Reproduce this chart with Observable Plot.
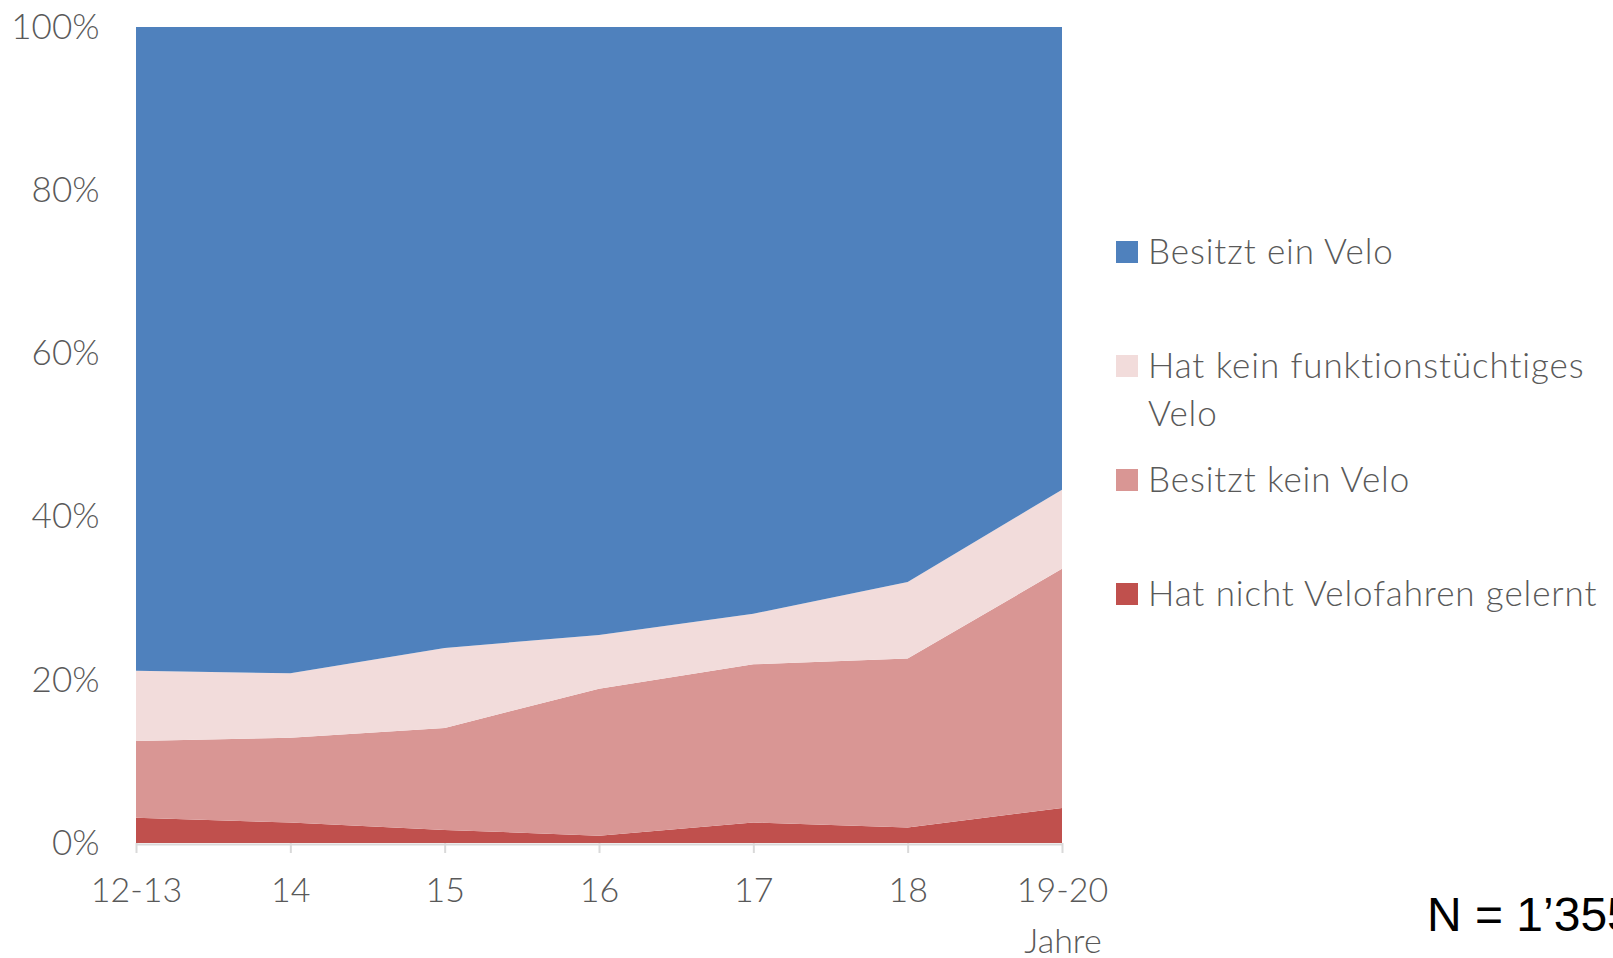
<!DOCTYPE html>
<html><head><meta charset="utf-8">
<script src="https://cdn.jsdelivr.net/npm/d3@7"></script>
<script src="https://cdn.jsdelivr.net/npm/@observablehq/plot@0.6"></script>
<style>
html,body{margin:0;padding:0;background:#fff;}
#wrap{position:relative;width:1613px;height:958px;overflow:hidden;font-family:Lato,sans-serif;font-weight:300;color:#595959;}
#chart svg{display:block;}
#legend{position:absolute;left:1116px;top:226px;width:497px;}
.row{position:relative;height:114px;}
.sw{position:absolute;left:0;top:15px;width:22px;height:22px;}
.lab{position:absolute;left:32px;top:0;width:460px;font-size:35px;line-height:48px;letter-spacing:0.9px;}
#jahre{position:absolute;left:1063px;top:924px;transform:translateX(-50%);font-size:34px;line-height:32px;white-space:nowrap;}
#nnote{position:absolute;left:1427px;top:891px;font-family:"Liberation Sans",Arial,sans-serif;font-weight:400;font-size:48px;line-height:48px;color:#000;white-space:nowrap;}
</style></head><body>
<div id="wrap"><div id="chart"></div><div id="legend"></div><div id="jahre"></div><div id="nnote"></div></div>
<script>
const categories = ["12-13","14","15","16","17","18","19-20"];
const seriesNames = ["Hat nicht Velofahren gelernt","Besitzt kein Velo","Hat kein funktionstüchtiges Velo","Besitzt ein Velo"];
const seriesColors = ["#C0504D","#D99694","#F2DCDB","#4F81BD"];
const nichtGelernt = [3.1, 2.5, 1.6, 0.9, 2.5, 1.9, 4.3];
const keinVelo     = [9.4, 10.4, 12.5, 18.0, 19.4, 20.7, 29.3];
const keinFunktion = [8.6, 7.9, 9.8, 6.6, 6.2, 9.4, 9.7];
const einVelo      = [78.9, 79.2, 76.1, 74.5, 71.9, 68.0, 56.7];
const yTicks = [0, 20, 40, 60, 80, 100];
const legendOrder = ["Besitzt ein Velo","Hat kein funktionstüchtiges Velo","Besitzt kein Velo","Hat nicht Velofahren gelernt"];
const axisTitle = "Jahre";
const note = "N = 1’355";

const seriesValues = [nichtGelernt, keinVelo, keinFunktion, einVelo];
const rows = [];
seriesNames.forEach((s, k) => {
  categories.forEach((c, i) => rows.push({i, category: c, series: s, value: seriesValues[k][i]}));
});

const chart = Plot.plot({
  width: 1613, height: 958,
  marginLeft: 136, marginRight: 551, marginTop: 27, marginBottom: 115,
  style: {fontFamily: "Lato, sans-serif", fontSize: "34px", fontWeight: 300, color: "#595959", background: "transparent", overflow: "visible"},
  x: {type: "linear", domain: [0, categories.length - 1]},
  y: {domain: [0, 100]},
  color: {domain: seriesNames, range: seriesColors},
  marks: [
    Plot.areaY(rows, {x: "i", y: "value", z: "series", fill: "series", order: seriesNames}),
    Plot.ruleY([0], {stroke: "#d9d9d9", strokeWidth: 2, dy: 1}),
    Plot.axisX({ticks: d3.range(categories.length), tickFormat: i => categories[i], tickSize: 10, tickPadding: 24, stroke: "#d9d9d9", strokeWidth: 2, fill: "#595959", label: null}),
    Plot.axisY({ticks: yTicks, tickFormat: d => d + "%", tickSize: 0, tickPadding: 37, fill: "#595959", label: null, fontSize: 35})
  ]
});
document.getElementById("chart").appendChild(chart);

const color = d3.scaleOrdinal(seriesNames, seriesColors);
const legend = d3.select("#legend");
legendOrder.forEach(name => {
  const r = legend.append("div").attr("class", "row");
  r.append("div").attr("class", "sw").style("background", color(name));
  r.append("div").attr("class", "lab").text(name);
});
document.getElementById("jahre").textContent = axisTitle;
document.getElementById("nnote").textContent = note;
</script>
</body></html>
